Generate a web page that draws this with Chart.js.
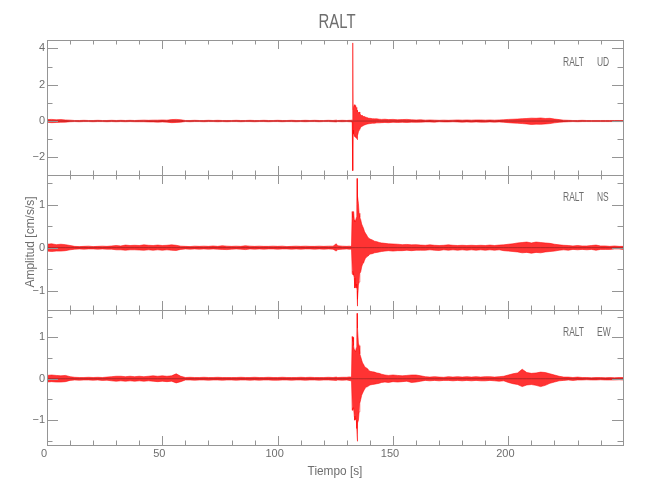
<!DOCTYPE html>
<html>
<head>
<meta charset="utf-8">
<script src="https://cdn.jsdelivr.net/npm/chart.js@4.4.1/dist/chart.umd.min.js"></script>
<style>
  body { margin: 0; background: #fff; }
  #wrap { position: relative; width: 650px; height: 500px; }
  #wrap canvas { position: absolute; left: 0; top: 0; }
</style>
</head>
<body>
<div id="wrap">
  <canvas id="ud" width="650" height="500"></canvas>
  <canvas id="ns" width="650" height="500"></canvas>
  <canvas id="ew" width="650" height="500"></canvas>
</div>
<script>
// tiempo [s] de cada punto de la envolvente (mas denso en el sismo)
const tiempo = [
  0, 2, 4, 6, 8, 10, 12, 14, 16, 18,
  20, 22, 24, 26, 28, 30, 32, 34, 36, 38,
  40, 42, 44, 46, 48, 50, 52, 54, 56, 58,
  60, 62, 64, 66, 68, 70, 72, 74, 76, 78,
  80, 82, 84, 86, 88, 90, 92, 94, 96, 98,
  100, 102, 104, 106, 108, 110, 112, 114, 116, 118,
  120, 122, 124, 125.4, 126, 128, 130, 131, 131.5, 132,
  132.3, 132.5, 132.6, 132.7, 132.9, 133.2, 133.5, 133.8, 134.1, 134.3,
  134.4, 134.5, 134.7, 135, 135.3, 135.6, 136, 136.4, 136.8, 137.2,
  137.6, 138, 138.5, 139, 139.5, 140, 141, 142, 143, 144,
  145, 146.5, 148, 150, 152, 154, 156, 158, 160, 162,
  164, 166, 168, 170, 172, 174, 176, 178, 180, 182,
  184, 186, 188, 190, 192, 194, 196, 198, 200, 202,
  204, 206, 208, 210, 212, 214, 216, 218, 220, 222,
  224, 226, 228, 230, 232, 234, 236, 238, 240, 242,
  244, 246, 248, 249.7
];

// componente UD: maximo y minimo de la traza
const udSup = [
  .08, .09, .07, .08, .06, .05, .03, .03, .04, .03,
  .03, .04, .03, .03, .04, .03, .04, .03, .04, .03,
  .04, .05, .04, .05, .05, .06, .05, .08, .09, .07,
  .03, .03, .04, .03, .03, .04, .03, .04, .03, .03,
  .03, .04, .03, .03, .04, .03, .03, .04, .03, .03,
  .04, .03, .03, .04, .03, .03, .04, .03, .04, .03,
  .03, .04, .03, .05, .03, .04, .03, .04, .04, .05,
  .05, .3, 4.3, .6, .75, .9, .8, .85, .7, .75,
  .6, .55, .5, .45, .5, .4, .35, .3, .3, .25,
  .25, .22, .2, .18, .15, .15, .13, .12, .12, .1,
  .09, .1, .08, .09, .07, .08, .09, .07, .06, .07,
  .05, .06, .05, .04, .05, .04, .05, .06, .05, .06,
  .05, .06, .06, .05, .06, .05, .06, .07, .09, .1,
  .11, .13, .14, .16, .15, .17, .14, .15, .11, .08,
  .05, .04, .03, .03, .04, .03, .03, .03, .03, .03,
  .03, .03, .03, .03
];
const udInf = [
  -.07, -.09, -.08, -.07, -.06, -.04, -.03, -.04, -.03, -.03,
  -.04, -.03, -.03, -.04, -.03, -.04, -.03, -.04, -.03, -.04,
  -.04, -.04, -.05, -.05, -.06, -.05, -.06, -.09, -.08, -.06,
  -.03, -.04, -.03, -.03, -.04, -.03, -.03, -.04, -.03, -.04,
  -.03, -.03, -.04, -.03, -.03, -.04, -.03, -.03, -.04, -.03,
  -.03, -.04, -.03, -.03, -.04, -.03, -.04, -.03, -.03, -.04,
  -.03, -.03, -.04, -.05, -.03, -.04, -.03, -.04, -.04, -.05,
  -.05, -.3, -2.73, -.5, -.7, -.8, -.85, -.9, -.95, -.9,
  -.95, -1.03, -.8, -.6, -.5, -.45, -.35, -.3, -.28, -.25,
  -.22, -.2, -.18, -.16, -.15, -.14, -.12, -.12, -.1, -.1,
  -.09, -.08, -.09, -.07, -.08, -.07, -.08, -.06, -.07, -.06,
  -.05, -.05, -.06, -.04, -.05, -.05, -.04, -.05, -.06, -.05,
  -.06, -.05, -.06, -.06, -.05, -.06, -.05, -.07, -.09, -.11,
  -.12, -.14, -.16, -.19, -.17, -.18, -.16, -.14, -.1, -.07,
  -.05, -.04, -.03, -.04, -.03, -.03, -.03, -.03, -.03, -.03,
  -.03, -.03, -.03, -.03
];

// componente NS
const nsSup = [
  .08, .09, .07, .08, .07, .05, .03, .025, .03, .035,
  .025, .03, .035, .03, .04, .05, .04, .06, .05, .055,
  .05, .065, .055, .05, .06, .05, .055, .065, .055, .035,
  .03, .025, .035, .03, .035, .03, .04, .03, .045, .035,
  .03, .035, .03, .045, .035, .03, .035, .03, .03, .035,
  .03, .035, .025, .03, .035, .03, .035, .03, .03, .035,
  .03, .035, .035, .09, .045, .035, .03, .035, .03, .04,
  .84, .7, .8, .75, .84, .65, .6, .62, .7, 1.0,
  1.61, 1.1, 1.2, 1.03, .8, .7, .65, .55, .5, .45,
  .38, .34, .3, .25, .22, .2, .18, .15, .14, .12,
  .11, .1, .09, .085, .08, .07, .075, .065, .07, .06,
  .055, .065, .055, .05, .055, .065, .055, .05, .055, .05,
  .055, .05, .055, .05, .06, .05, .06, .065, .08, .09,
  .11, .12, .13, .11, .13, .12, .11, .1, .08, .065,
  .055, .05, .04, .05, .04, .04, .05, .06, .04, .04,
  .03, .04, .03, .03
];
const nsInf = [
  -.08, -.09, -.08, -.08, -.07, -.05, -.035, -.03, -.035, -.03,
  -.03, -.035, -.03, -.035, -.035, -.05, -.05, -.06, -.05, -.05,
  -.055, -.06, -.05, -.06, -.05, -.06, -.05, -.06, -.065, -.04,
  -.03, -.035, -.03, -.035, -.03, -.035, -.03, -.035, -.04, -.045,
  -.035, -.03, -.035, -.045, -.03, -.035, -.03, -.035, -.03, -.03,
  -.035, -.03, -.03, -.035, -.03, -.035, -.03, -.03, -.035, -.03,
  -.035, -.03, -.035, -.08, -.045, -.035, -.03, -.035, -.035, -.03,
  -.6, -.63, -.55, -.6, -.63, -.7, -.94, -.9, -.85, -.94,
  -1.0, -1.36, -1.2, -.87, -.8, -.6, -.56, -.45, -.38, -.36,
  -.3, -.25, -.22, -.2, -.18, -.15, -.14, -.12, -.11, -.1,
  -.09, -.08, -.07, -.08, -.07, -.07, -.06, -.07, -.06, -.06,
  -.06, -.05, -.06, -.065, -.05, -.06, -.05, -.06, -.05, -.06,
  -.05, -.06, -.05, -.06, -.05, -.06, -.05, -.07, -.08, -.09,
  -.1, -.12, -.11, -.13, -.11, -.12, -.1, -.09, -.08, -.06,
  -.05, -.06, -.04, -.05, -.04, -.05, -.04, -.06, -.04, -.04,
  -.04, -.03, -.03, -.04
];

// componente EW
const ewSup = [
  .08, .09, .08, .07, .08, .05, .035, .03, .03, .035,
  .03, .035, .03, .04, .05, .06, .06, .05, .06, .05,
  .06, .05, .06, .07, .06, .07, .06, .07, .12, .06,
  .03, .035, .03, .03, .035, .03, .03, .035, .03, .03,
  .03, .03, .035, .03, .03, .035, .03, .03, .035, .03,
  .03, .035, .03, .03, .03, .035, .03, .035, .03, .03,
  .03, .035, .03, .04, .03, .035, .035, .045, .04, .05,
  1.02, .9, .95, 1.0, .8, .7, .69, .65, .75, 1.0,
  1.58, 1.3, 1.22, .86, .8, .6, .53, .45, .38, .35,
  .3, .28, .26, .24, .2, .18, .17, .16, .14, .13,
  .11, .09, .08, .09, .08, .07, .08, .09, .09, .07,
  .05, .04, .05, .04, .035, .05, .04, .05, .04, .05,
  .04, .05, .04, .05, .05, .04, .05, .06, .09, .12,
  .14, .23, .15, .13, .14, .16, .15, .12, .09, .06,
  .04, .04, .03, .04, .03, .03, .025, .03, .03, .025,
  .03, .025, .03, .03
];
const ewInf = [
  -.08, -.07, -.08, -.08, -.07, -.04, -.03, -.035, -.03, -.03,
  -.035, -.03, -.04, -.035, -.05, -.06, -.05, -.06, -.05, -.06,
  -.05, -.06, -.05, -.06, -.07, -.06, -.07, -.06, -.1, -.07,
  -.03, -.03, -.035, -.03, -.03, -.035, -.03, -.03, -.035, -.03,
  -.03, -.035, -.03, -.03, -.035, -.03, -.035, -.03, -.03, -.035,
  -.035, -.03, -.03, -.035, -.03, -.03, -.035, -.03, -.03, -.035,
  -.03, -.03, -.035, -.04, -.03, -.035, -.03, -.04, -.05, -.04,
  -.76, -.7, -.76, -.72, -.7, -.9, -1.0, -.95, -1.0, -1.2,
  -1.35, -1.51, -1.07, -1.0, -.8, -.59, -.5, -.4, -.35, -.3,
  -.26, -.22, -.2, -.19, -.17, -.15, -.14, -.13, -.12, -.11,
  -.09, -.08, -.09, -.07, -.08, -.07, -.06, -.09, -.08, -.06,
  -.04, -.05, -.04, -.05, -.04, -.04, -.05, -.04, -.05, -.04,
  -.05, -.04, -.05, -.05, -.04, -.05, -.06, -.05, -.09, -.12,
  -.14, -.19, -.15, -.14, -.16, -.19, -.16, -.11, -.08, -.05,
  -.04, -.03, -.04, -.03, -.03, -.025, -.03, -.03, -.025, -.03,
  -.03, -.03, -.025, -.03
];

const xTicks = [0, 50, 100, 150, 200];
const udTicks = [-2, 0, 2, 4];
const nsTicks = [-1, 0, 1];
const ewTicks = [-1, 0, 1];

const gris = '#959595';
const grisTexto = '#6e6e6e';
const rojo = 'rgba(255,0,0,0.9)';
const rojoRelleno = 'rgba(255,0,0,0.8)';
const xMax = tiempo[tiempo.length - 1];

function serie(vals) {
  return tiempo.map((t, i) => ({ x: t, y: vals[i] }));
}

function texto(ctx, s, x, y, size, sx, align, rot) {
  ctx.save();
  ctx.translate(x, y);
  if (rot) ctx.rotate(rot);
  ctx.scale(sx, 1);
  ctx.font = size + 'px "Liberation Sans"';
  ctx.fillStyle = grisTexto;
  ctx.textAlign = align;
  ctx.textBaseline = 'alphabetic';
  ctx.fillText(s, 0, 0);
  ctx.restore();
}

// marco con marcas hacia adentro en los cuatro lados + textos
const marco = {
  id: 'marco',
  afterDraw(chart, args, opts) {
    const { ctx, chartArea: a, scales } = chart;
    const x = scales.x, y = scales.y;
    ctx.save();
    ctx.strokeStyle = gris;
    ctx.lineWidth = 1;
    ctx.strokeRect(a.left + .5, a.top + .5, a.right - a.left, a.bottom - a.top);
    ctx.beginPath();
    for (let t = 0; t <= x.max; t += 10) {
      const px = Math.round(x.getPixelForValue(t)) + .5;
      const len = t % 50 === 0 ? 9 : 4.5;
      ctx.moveTo(px, a.top); ctx.lineTo(px, a.top + len);
      ctx.moveTo(px, a.bottom); ctx.lineTo(px, a.bottom - len);
    }
    const marcaY = (v, len) => {
      const py = Math.round(y.getPixelForValue(v)) + .5;
      ctx.moveTo(a.left, py); ctx.lineTo(a.left + len, py);
      ctx.moveTo(a.right, py); ctx.lineTo(a.right - len, py);
    };
    for (let k = Math.ceil(y.min / opts.menor); k * opts.menor <= y.max; k++) {
      marcaY(k * opts.menor, 5.5);
    }
    opts.ticks.forEach(v => marcaY(v, 11));
    ctx.stroke();
    ctx.restore();

    texto(ctx, 'RALT', 584, a.top + 25.5, 13, .65, 'right');
    texto(ctx, opts.comp, 597, a.top + 25.5, 13, .65, 'left');
    (opts.textos || []).forEach(o => texto(ctx, o.s, o.x, o.y, o.size, o.sx, o.align, o.rot));
  }
};

function panel(id, sup, inf, ticks, yMin, yMax, menor, padTop, padBottom, conX, extra) {
  const comp = id.toUpperCase();
  return new Chart(document.getElementById(id), {
    type: 'line',
    data: {
      datasets: [
        { data: serie(tiempo.map(() => 0)), borderColor: 'rgba(0,0,0,0.5)', borderWidth: 0.6, fill: false },
        { data: serie(sup), borderColor: rojo, borderWidth: 0.6, backgroundColor: rojoRelleno, fill: '+1' },
        { data: serie(inf), borderColor: rojo, borderWidth: 0.6, fill: false }
      ]
    },
    options: {
      responsive: false,
      animation: false,
      devicePixelRatio: 1,
      events: [],
      layout: { padding: { top: padTop, bottom: padBottom, left: 0, right: 27 } },
      elements: { point: { radius: 0 }, line: { tension: 0 } },
      plugins: {
        legend: { display: false },
        tooltip: { enabled: false },
        marco: { ticks: ticks, menor: menor, comp: comp, textos: extra }
      },
      scales: {
        x: {
          type: 'linear', min: 0, max: xMax, display: conX,
          afterFit(s) { s.height = conX ? 45 : 0; },
          afterBuildTicks(s) { s.ticks = xTicks.map(v => ({ value: v })); },
          grid: { display: false, drawTicks: false }, border: { display: false },
          ticks: { padding: 2, labelOffset: -3, maxRotation: 0, autoSkip: false, color: grisTexto,
                   font: { family: 'Liberation Sans', size: 11 } }
        },
        y: {
          type: 'linear', min: yMin, max: yMax,
          afterFit(s) { s.width = 47; },
          afterBuildTicks(s) { s.ticks = ticks.map(v => ({ value: v })); },
          grid: { display: false, drawTicks: false }, border: { display: false },
          ticks: { padding: 2, color: grisTexto, font: { family: 'Liberation Sans', size: 11 },
                   callback: v => v < 0 ? '\u2212' + Math.abs(v) : String(v) }
        }
      }
    },
    plugins: [marco]
  });
}

panel('ud', udSup, udInf, udTicks, -2.97, 4.46, 1, 40, 325, false,
  [{ s: 'RALT', x: 337, y: 28, size: 21, sx: .71, align: 'center' }]);
panel('ns', nsSup, nsInf, nsTicks, -1.45, 1.69, 0.5, 175, 190, false,
  [{ s: 'Amplitud [cm/s/s]', x: 33.5, y: 242, size: 13, sx: .92, align: 'center', rot: -Math.PI / 2 }]);
panel('ew', ewSup, ewInf, ewTicks, -1.60, 1.66, 0.5, 310, 10, true,
  [{ s: 'Tiempo [s]', x: 335, y: 475, size: 13, sx: .91, align: 'center' }]);
</script>
</body>
</html>
